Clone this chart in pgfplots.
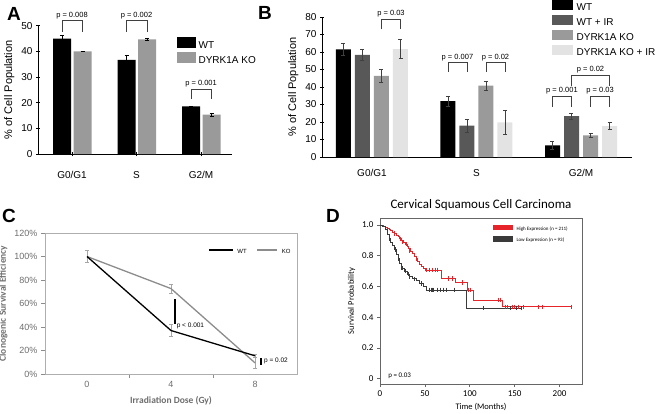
\documentclass[border=0pt]{standalone}
\usepackage{fontspec}
\setmainfont{Liberation Sans}
\newfontfamily\carlito{Carlito}
\usepackage{pgfplots}
\pgfplotsset{compat=1.18}

\definecolor{kogray}{HTML}{9A9A9A}
\definecolor{wtir}{HTML}{585858}
\definecolor{koir}{HTML}{E3E3E3}
\definecolor{kmred}{HTML}{E8242B}
\definecolor{kmblack}{HTML}{3A3A3A}
\definecolor{cgray}{HTML}{8C8C8C}
\definecolor{labgray}{HTML}{6E6E6E}

\newcommand{\fsz}[1]{\fontsize{#1}{#1}\selectfont}

\pgfplotsset{
  panel/.style={scale only axis, clip=false, anchor=south west,
    /pgf/number format/assume math mode=true,
    tick align=outside, major tick length=4pt,
    tick style={black, line width=0.6pt}},
  barerr/.style={draw=none, mark=none, forget plot,
    error bars/.cd, y dir=both, y explicit,
    error bar style={#1, line width=0.5pt},
    error mark options={rotate=90, #1, line width=0.5pt, mark size=2pt}},
}
\tikzset{
  bracket/.style={line width=0.5pt, black!75},
  pval/.style={font=\fsz{7.5}, anchor=south, inner sep=1pt},
}

\begin{document}
\begin{tikzpicture}
\useasboundingbox (0pt,0pt) rectangle (660pt,-414pt);

% ---------------- A ----------------
\begin{axis}[panel, at={(38pt,-154pt)}, width=194pt, height=128.3pt,
  xmin=-0.527, xmax=2.48, ymin=0, ymax=50,
  axis x line=bottom, axis y line=left, axis line style={-, line width=0.8pt},
  xtick={0,1,2}, xticklabels={G0/G1,S,G2/M},
  ytick={0,10,20,30,40,50},
  tick label style={font=\fsz{10}},
  xticklabel style={yshift=-12pt},
  ylabel={\% of Cell Population}, ylabel style={font=\fsz{11}},
  legend style={at={(rel axis cs:0.7165,0.915)}, anchor=north west, draw=none, fill=none,
    inner sep=0pt, row sep=0.5pt, font=\fsz{10},
    nodes={inner sep=1pt, text height=8pt, text depth=2pt},
    /tikz/every odd column/.style={column sep=2pt}},
  legend cell align=left]
\addplot[ybar, bar width=18pt, bar shift=-10pt, fill=black, draw=none, forget plot]
  coordinates {(0,45.0) (1,36.7) (2,18.6)};
\addplot[ybar, bar width=18pt, bar shift=10.5pt, fill=kogray, draw=none, forget plot]
  coordinates {(0,40.0) (1,44.7) (2,15.3)};
% error bars at the bar centres
\addplot[barerr=black] coordinates {(-0.155,45.0) +- (0,1.4) (0.845,36.7) +- (0,1.6) (1.845,18.6) +- (0,0.1)};
\addplot[barerr=black] coordinates {(0.163,40.0) +- (0,0.1) (1.163,44.7) +- (0,0.5) (2.163,15.3) +- (0,0.7)};
\addlegendimage{legend image code/.code={\fill[black] (0pt,-1.5pt) rectangle (18pt,8.5pt);}}
\addlegendentry{WT}
\addlegendimage{legend image code/.code={\fill[kogray] (0pt,-1.5pt) rectangle (18pt,8.5pt);}}
\addlegendentry{DYRK1A KO}
\draw[bracket] (axis cs:-0.155,47.7) |- (axis cs:0.163,52) -- (axis cs:0.163,47.7);
\node[pval] at (axis cs:0,52.3) {p = 0.008};
\draw[bracket] (axis cs:0.845,47.7) |- (axis cs:1.163,52) -- (axis cs:1.163,47.7);
\node[pval] at (axis cs:1,52.3) {p = 0.002};
\draw[bracket] (axis cs:1.845,21.4) |- (axis cs:2.163,25.2) -- (axis cs:2.163,21.4);
\node[pval] at (axis cs:2,25.5) {p = 0.001};
\end{axis}

% ---------------- B ----------------
\begin{axis}[panel, at={(322pt,-157pt)}, width=310pt, height=140pt,
  xmin=-0.478, xmax=2.488, ymin=0, ymax=80,
  axis x line=bottom, axis y line=left, axis line style={-, line width=0.8pt},
  xtick={0,1,2}, xticklabels={G0/G1,S,G2/M}, xtick style={draw=none},
  ytick={0,10,20,30,40,50,60,70,80},
  tick label style={font=\fsz{10}},
  xticklabel style={yshift=-7pt},
  ylabel={\% of Cell Population}, ylabel style={font=\fsz{11}},
  legend style={at={(rel axis cs:0.742,1.125)}, anchor=north west, draw=none, fill=none,
    inner sep=0pt, row sep=0.8pt, font=\fsz{10},
    nodes={inner sep=1pt, text height=8pt, text depth=2pt},
    /tikz/every odd column/.style={column sep=3pt}},
  legend cell align=left]
\addplot[ybar, bar width=15pt, bar shift=-28.5pt, fill=black, draw=none, forget plot]
  coordinates {(0,61.5) (1,32.0) (2,6.7)};
\addplot[ybar, bar width=15pt, bar shift=-9.5pt, fill=wtir, draw=none, forget plot]
  coordinates {(0,58.3) (1,17.9) (2,23.4)};
\addplot[ybar, bar width=15pt, bar shift=9.5pt, fill=kogray, draw=none, forget plot]
  coordinates {(0,46.3) (1,40.8) (2,12.4)};
\addplot[ybar, bar width=15pt, bar shift=28.5pt, fill=koir, draw=none, forget plot]
  coordinates {(0,61.7) (1,19.8) (2,17.7)};
% error bars at the bar centres
\addplot[barerr=black!75] coordinates {(-0.273,61.5) +- (0,3.5) (0.727,32.0) +- (0,3.0) (1.727,6.7) +- (0,2.3)};
\addplot[barerr=black!75] coordinates {(-0.091,58.3) +- (0,3.2) (0.909,17.9) +- (0,3.8) (1.909,23.4) +- (0,1.6)};
\addplot[barerr=black!75] coordinates {(0.091,46.3) +- (0,3.8) (1.091,40.8) +- (0,2.5) (2.091,12.4) +- (0,1.1)};
\addplot[barerr=black!75] coordinates {(0.273,61.7) +- (0,5.5) (1.273,19.8) +- (0,7.0) (2.273,17.7) +- (0,2.1)};
\addlegendimage{legend image code/.code={\fill[black] (0pt,-1.5pt) rectangle (20pt,8pt);}}
\addlegendentry{WT}
\addlegendimage{legend image code/.code={\fill[wtir] (0pt,-1.5pt) rectangle (20pt,8pt);}}
\addlegendentry{WT + IR}
\addlegendimage{legend image code/.code={\fill[kogray] (0pt,-1.5pt) rectangle (20pt,8pt);}}
\addlegendentry{DYRK1A KO}
\addlegendimage{legend image code/.code={\fill[koir] (0pt,-1.5pt) rectangle (20pt,8pt);}}
\addlegendentry{DYRK1A KO + IR}
\draw[bracket] (axis cs:0.091,73) |- (axis cs:0.273,78.9) -- (axis cs:0.273,73);
\node[pval] at (axis cs:0.182,79.2) {p = 0.03};
\draw[bracket] (axis cs:0.727,48.8) |- (axis cs:0.909,54.1) -- (axis cs:0.909,48.8);
\node[pval] at (axis cs:0.818,54.4) {p = 0.007};
\draw[bracket] (axis cs:1.091,48.8) |- (axis cs:1.273,54.1) -- (axis cs:1.273,48.8);
\node[pval] at (axis cs:1.182,54.4) {p = 0.02};
\draw[bracket] (axis cs:1.727,28.8) |- (axis cs:1.909,35) -- (axis cs:1.909,28.8);
\node[pval] at (axis cs:1.818,35.3) {p = 0.001};
\draw[bracket] (axis cs:2.091,28.8) |- (axis cs:2.273,35) -- (axis cs:2.273,28.8);
\node[pval] at (axis cs:2.182,35.3) {p = 0.03};
\draw[bracket] (axis cs:1.909,40.6) |- (axis cs:2.273,46.9) -- (axis cs:2.273,40.6);
\node[pval] at (axis cs:2.091,47.2) {p = 0.02};
\end{axis}

% ---------------- C ----------------
\begin{axis}[panel, at={(45pt,-374pt)}, width=252pt, height=141pt,
  xmin=-2, xmax=10, ymin=0, ymax=120,
  axis line style={cgray!70, line width=0.6pt}, tick pos=left,
  tick style={cgray, line width=0.6pt},
  xtick={0,4,8}, minor xtick={2,6}, minor tick length=4pt,
  every major x tick/.append style={draw=none},
  ytick={0,20,40,60,80,100,120},
  yticklabels={0\%,20\%,40\%,60\%,80\%,100\%,120\%},
  tick label style={font=\fsz{9}, text=labgray},
  xlabel={Irradiation Dose (Gy)}, ylabel={Clonogenic Survival Efficiency},
  xlabel style={yshift=-2pt},
  label style={font=\carlito\bfseries\fsz{9.5}, text=labgray},
  legend style={at={(rel axis cs:0.647,0.865)}, anchor=west, draw=none, fill=none,
    inner sep=0pt, font=\fsz{6}, /tikz/every odd column/.style={column sep=2pt},
    /tikz/every even column/.style={column sep=8pt}},
  legend columns=2]
\addplot[draw=none, forget plot, error bars/.cd, y dir=both, y explicit,
    error bar style={gray!70, line width=0.6pt}, error mark options={rotate=90, gray!70, line width=0.6pt, mark size=2pt}]
  coordinates {(0,100) +- (0,5) (4,72.7) +- (0,4) (8,9.5) +- (0,5)};
\addplot[draw=none, forget plot, error bars/.cd, y dir=both, y explicit,
    error bar style={gray!70, line width=0.6pt}, error mark options={rotate=90, gray!70, line width=0.6pt, mark size=2pt}]
  coordinates {(4,37) +- (0,5) (8,15.5) +- (0,1.5)};
\addplot[cgray, line width=1.3pt, forget plot] coordinates {(0,100) (4,72.7) (8,9.5)};
\addplot[black, line width=1.3pt, forget plot] coordinates {(0,100) (4,37) (8,15.5)};
\addlegendimage{legend image code/.code={\draw[black, line width=1.2pt] (0pt,2pt) -- (24pt,2pt);}}
\addlegendentry{WT}
\addlegendimage{legend image code/.code={\draw[cgray, line width=1.2pt] (0pt,2pt) -- (20pt,2pt);}}
\addlegendentry{KO}
\draw[black, line width=1.6pt] (axis cs:4.19,63.8) -- (axis cs:4.19,42.5);
\node[anchor=west, font=\fsz{6.5}, inner sep=1pt] at (axis cs:4.22,41) {p < 0.001};
\draw[black, line width=1.6pt] (axis cs:8.29,13.6) -- (axis cs:8.29,7.7);
\node[anchor=west, font=\fsz{6.5}, inner sep=1pt] at (axis cs:8.38,11) {p = 0.02};
\end{axis}

% ---------------- D ----------------
\begin{axis}[panel, at={(380pt,-384pt)}, width=202pt, height=166pt,
  xmin=0, xmax=225, ymin=-0.034, ymax=1.045,
  axis line style={black!60, line width=0.6pt}, tick pos=left,
  tick style={black!60, line width=0.6pt}, major tick length=3pt,
  xtick={0,50,100,150,200},
  ytick={0,0.2,0.4,0.6,0.8,1}, yticklabels={0,0.2,0.4,0.6,0.8,1.0},
  tick label style={font=\carlito\fsz{9}},
  title={Cervical Squamous Cell Carcinoma}, title style={font=\carlito\fsz{13}, yshift=-2pt},
  xlabel={Time (Months)}, ylabel={Survival Probability},
  label style={font=\carlito\fsz{8.5}},
  legend style={at={(rel axis cs:0.559,0.962)}, anchor=north west, draw=none, fill=none,
    inner sep=0pt, row sep=2pt, font=\carlito\fsz{5}, /tikz/every odd column/.style={column sep=2pt}},
  legend cell align=left]
\addplot[const plot, kmred, line width=0.6pt, forget plot] coordinates {
  (0,1.00) (2,0.995) (4,0.99) (6,0.985) (8,0.975) (10,0.97) (12,0.965) (14,0.955)
  (16,0.945) (18,0.935) (20,0.925) (22,0.91) (24,0.90) (26,0.89) (28,0.875) (30,0.86)
  (32,0.845) (34,0.83) (36,0.815) (38,0.795) (40,0.78) (42,0.765) (44,0.745) (46,0.73)
  (48,0.715) (50,0.708) (68.5,0.652) (83.5,0.625) (97,0.578) (103.5,0.513) (136,0.468) (213,0.468)};
\addplot[const plot, kmblack, line width=0.6pt, forget plot] coordinates {
  (0,1.00) (3,0.99) (6,0.97) (8,0.94) (10,0.91) (12,0.89) (14,0.87) (16,0.84) (18,0.81)
  (20,0.78) (22,0.75) (24,0.72) (27,0.70) (30,0.68) (33,0.665) (36,0.65) (40,0.64)
  (44,0.62) (48,0.60) (52,0.578) (96.5,0.459) (158,0.459)};
\addplot[only marks, mark=|, mark size=2.2pt, kmred, mark options={line width=0.5pt}, forget plot] coordinates {
  (16,0.945) (22,0.91) (25,0.89) (29,0.875) (33,0.83) (40,0.78) (52,0.708) (55,0.708)
  (58,0.708) (61,0.708) (64,0.708) (76,0.652) (81,0.652) (92,0.625) (98,0.578) (101,0.578)
  (132,0.513) (134,0.513) (139,0.468) (142,0.468) (147,0.468) (150,0.468) (154,0.468)
  (160,0.468) (176,0.468) (181,0.468) (213,0.468)};
\addplot[only marks, mark=|, mark size=2.2pt, kmblack, mark options={line width=0.5pt}, forget plot] coordinates {
  (10,0.91) (17,0.84) (20,0.78) (24,0.72) (25,0.72) (28,0.70) (31,0.68) (33,0.665) (38,0.65)
  (46,0.62) (55,0.578) (57,0.578) (58,0.578) (59,0.578) (64,0.578) (67,0.578) (71,0.578)
  (74,0.578) (83,0.578) (115,0.459) (145,0.459) (152,0.459) (157,0.459)};
\addlegendimage{legend image code/.code={\fill[kmred] (0pt,-0.5pt) rectangle (19pt,4pt);}}
\addlegendentry{High Expression (n = 211)}
\addlegendimage{legend image code/.code={\fill[kmblack] (0pt,-0.5pt) rectangle (19pt,4pt);}}
\addlegendentry{Low Expression (n = 93)}
\node[anchor=west, font=\carlito\fsz{7}, inner sep=0pt] at (axis cs:9,0.02) {p = 0.03};
\end{axis}

% panel letters
\node[font=\bfseries\fsz{19}] at (14pt,-14pt) {A};
\node[font=\bfseries\fsz{19}] at (265pt,-13pt) {B};
\node[font=\bfseries\fsz{19}] at (9pt,-216pt) {C};
\node[font=\bfseries\fsz{19}] at (333pt,-216pt) {D};
\end{tikzpicture}
\end{document}
